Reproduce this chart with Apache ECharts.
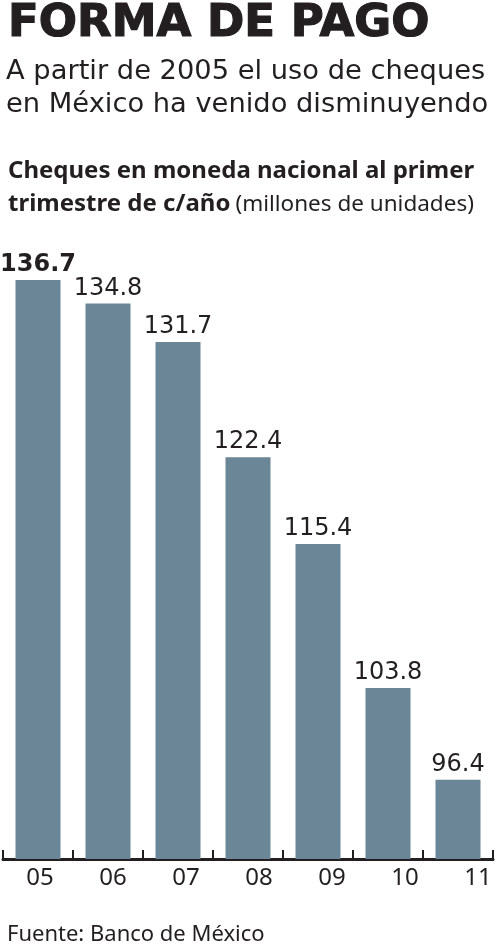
<!DOCTYPE html>
<html><head><meta charset="utf-8">
<script src="https://cdn.jsdelivr.net/npm/echarts@6/dist/echarts.min.js"></script>
<style>html,body{margin:0;padding:0;background:#fff}#c{width:500px;height:946px}</style>
</head><body><div id="c"></div>
<script>
const categories = ['05','06','07','08','09','10','11'];
const values = [136.7, 134.8, 131.7, 122.4, 115.4, 103.8, 96.4];
const titleText = 'FORMA DE PAGO';
const subtitleLines = ['A partir de 2005 el uso de cheques', 'en México ha venido disminuyendo'];
const chartTitleBold1 = 'Cheques en moneda nacional al primer';
const chartTitleBold2 = 'trimestre de c/año';
const chartTitleUnit = '(millones de unidades)';
const sourceText = 'Fuente: Banco de México';

const ink = '#231f20';
const barColor = '#6a8697';
const FONT = 'Noto Sans';
const WIDE = 'DejaVu Sans';

const chart = echarts.init(document.getElementById('c'), null, {renderer:'canvas'});

const rich = {};
categories.forEach((c,i)=>{ rich['s'+i] = {fontSize:24, fontFamily:FONT, color:ink, padding:[0,0,0,2*(2+3*i)]}; });

chart.setOption({
  backgroundColor:'#fff',
  animation:false,
  title:[
    {text:titleText, left:3, top:-3, textStyle:{fontFamily:WIDE, fontWeight:'bold', fontSize:45, color:ink, textBorderColor:ink, textBorderWidth:1.2}},
    {text:subtitleLines.join('\n'), left:1, top:50, textStyle:{fontFamily:WIDE, fontWeight:'normal', fontSize:27.3, lineHeight:33, color:ink}},
    {text:'{b|'+chartTitleBold1+'}\n{b|'+chartTitleBold2+'} {r|'+chartTitleUnit+'}', left:3, top:150,
      textStyle:{rich:{b:{fontFamily:FONT, fontWeight:'bold', fontSize:24, lineHeight:33, color:ink}, r:{fontFamily:FONT, fontWeight:'normal', fontSize:22.5, lineHeight:33, color:ink}}}},
    {text:sourceText, left:2, top:919, textStyle:{fontFamily:FONT, fontWeight:'normal', fontSize:22, color:ink}}
  ],
  grid:{left:3, right:7, top:239, bottom:87},
  xAxis:{type:'category', data:categories, boundaryGap:true,
    axisLine:{show:true, lineStyle:{color:ink, width:3}},
    axisTick:{show:true, inside:true, length:9, lineStyle:{color:ink, width:2}},
    axisLabel:{margin:7, formatter:(v,i)=>'{s'+i+'|'+v+'}', rich:rich}
  },
  yAxis:{type:'value', min:90, max:140, show:false, splitLine:{show:false}},
  series:[{type:'bar', barWidth:45, itemStyle:{color:barColor},
    data: values.map((v,i)=> i===0 ? {value:v, label:{fontWeight:'bold'}} : v),
    label:{show:true, position:'top', distance:3, fontFamily:WIDE, fontSize:24, color:ink, formatter:p=>p.value.toFixed(1)}
  }]
});
</script></body></html>
